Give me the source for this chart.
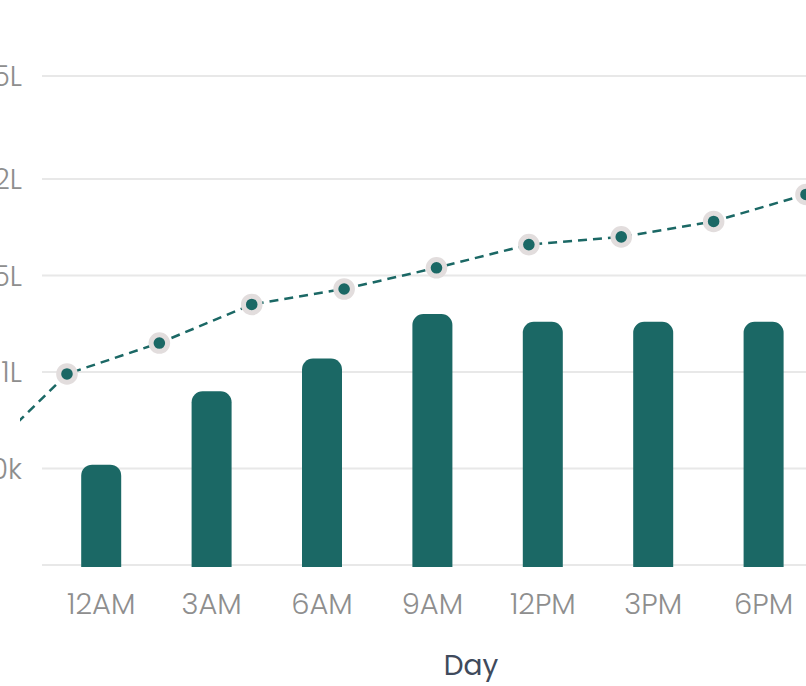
<!DOCTYPE html>
<html>
<head>
<meta charset="utf-8">
<script src="https://cdn.jsdelivr.net/npm/d3@7"></script>
<style>
  html, body { margin: 0; padding: 0; background: #fff; }
  svg { display: block; overflow: hidden; }
</style>
</head>
<body>
<svg id="chart"></svg>
<script>
// bar series (per hour)
const hours = ['12AM', '3AM', '6AM', '9AM', '12PM', '3PM', '6PM'];
const barValues = [52000, 90000, 107000, 130000, 126000, 126000, 126000];

// dashed line series (first point sits just left of the visible area)
const lineValues = [52000, 99000, 115000, 135000, 143000, 154000, 166000, 170000, 178000, 192000];

// y ticks
const yTicks = [0, 50000, 100000, 150000, 200000, 250000];
const yTickLabels = ['', '50k', '1L', '1.5L', '2L', '2.5L'];

const width = 806,
  height = 686;
const teal = '#1b6865';
const font = 'Poppins, Lato, "Open Sans", sans-serif';

const svg = d3
  .select('#chart')
  .attr('width', width)
  .attr('height', height)
  .attr('viewBox', `0 0 ${width} ${height}`);

const plotLeft = 42,
  plotBottom = 565;

// series are clipped a little left of the grid
svg
  .append('defs')
  .append('clipPath')
  .attr('id', 'series-clip')
  .append('rect')
  .attr('x', 20)
  .attr('y', 0)
  .attr('width', width)
  .attr('height', height);

// ticks are not evenly spread at the top in the picture, so map through them
const y = d3
  .scaleLinear()
  .domain([0, 200000, 250000])
  .range([plotBottom, 179, 76]);

const x = d3
  .scaleBand()
  .domain(hours)
  .range([46, 46 + hours.length * 110.4]);

const xLine = d3
  .scaleLinear()
  .domain([0, lineValues.length - 1])
  .range([-25.4, 806]);

// grid
svg
  .append('g')
  .selectAll('line')
  .data(yTicks)
  .join('line')
  .attr('x1', plotLeft)
  .attr('x2', width + 10)
  .attr('y1', d => y(d))
  .attr('y2', d => y(d))
  .attr('stroke', '#e8e8e8')
  .attr('stroke-width', 2);

svg
  .append('g')
  .selectAll('text')
  .data(yTicks)
  .join('text')
  .attr('x', 22)
  .attr('y', d => y(d))
  .attr('dy', '0.36em')
  .attr('text-anchor', 'end')
  .attr('font-family', font)
  .attr('font-weight', 300)
  .attr('font-size', 29)
  .attr('fill', '#8e8e8e')
  .text((d, i) => yTickLabels[i]);

// bars with rounded tops
const barW = 40,
  r = 11;
function barPath(d, i) {
  const cx = x(hours[i]) + x.bandwidth() / 2;
  const x0 = cx - barW / 2,
    x1 = cx + barW / 2,
    top = y(d),
    bottom = y(0) + 2;
  const p = d3.path();
  p.moveTo(x0, bottom);
  p.lineTo(x0, top + r);
  p.arcTo(x0, top, x0 + r, top, r);
  p.lineTo(x1 - r, top);
  p.arcTo(x1, top, x1, top + r, r);
  p.lineTo(x1, bottom);
  p.closePath();
  return p.toString();
}

svg
  .append('g')
  .selectAll('path')
  .data(barValues)
  .join('path')
  .attr('d', barPath)
  .attr('fill', teal);

// dashed line + markers
const line = d3
  .line()
  .x((d, i) => xLine(i))
  .y(d => y(d));

const series = svg.append('g').attr('clip-path', 'url(#series-clip)');

series
  .append('path')
  .datum(lineValues)
  .attr('d', line)
  .attr('fill', 'none')
  .attr('stroke', teal)
  .attr('stroke-width', 2.5)
  .attr('stroke-dasharray', '9,6');

series
  .append('g')
  .selectAll('circle')
  .data(lineValues)
  .join('circle')
  .attr('cx', (d, i) => xLine(i))
  .attr('cy', d => y(d))
  .attr('r', 8.3)
  .attr('fill', teal)
  .attr('stroke', '#e2dddd')
  .attr('stroke-width', 5);

// x axis labels
svg
  .append('g')
  .selectAll('text')
  .data(hours)
  .join('text')
  .attr('x', d => x(d) + x.bandwidth() / 2)
  .attr('y', 614)
  .attr('text-anchor', 'middle')
  .attr('font-family', font)
  .attr('font-weight', 300)
  .attr('font-size', 29)
  .attr('fill', '#8e8e8e')
  .text(d => d);

svg
  .append('text')
  .attr('x', 471)
  .attr('y', 675)
  .attr('text-anchor', 'middle')
  .attr('font-family', font)
  .attr('font-size', 28)
  .attr('fill', '#3f4a5c')
  .text('Day');
</script>
</body>
</html>
